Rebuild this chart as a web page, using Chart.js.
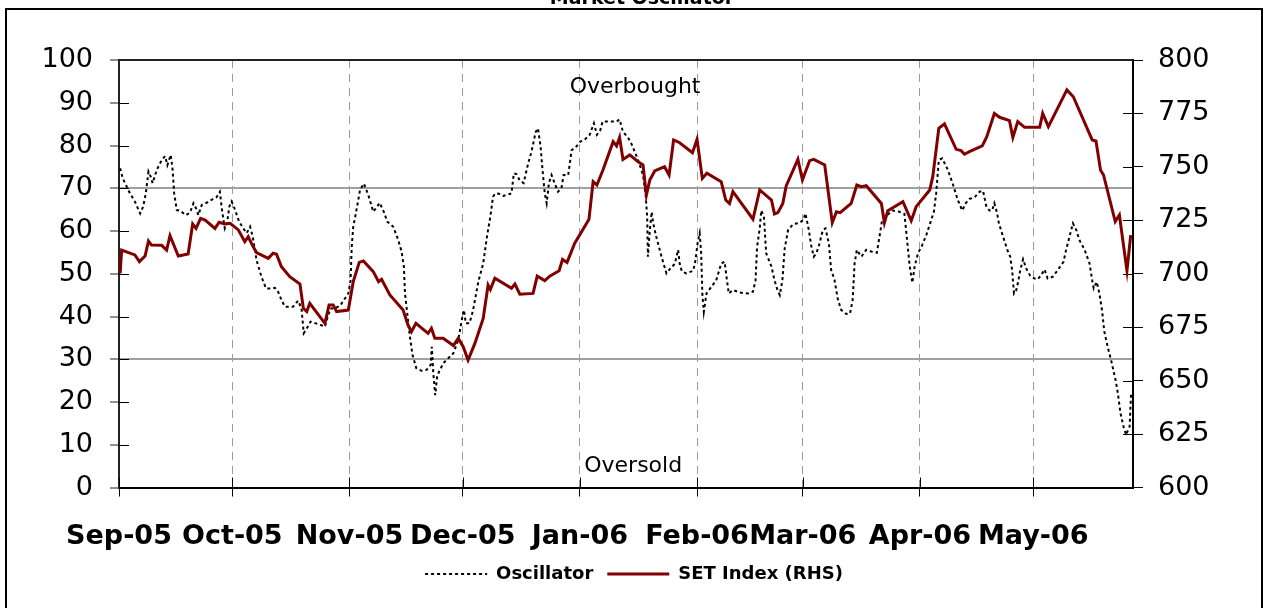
<!DOCTYPE html>
<html>
<head>
<meta charset="utf-8">
<script src="https://cdn.jsdelivr.net/npm/chart.js@4/dist/chart.umd.min.js"></script>
<style>
html,body{margin:0;padding:0;background:#fff;}
#wrap{position:relative;width:1268px;height:608px;overflow:hidden;}
canvas{display:block;}
</style>
</head>
<body>
<div id="wrap"><canvas id="c" width="1268" height="608" style="width:1268px;height:608px"></canvas></div>
<script>
// ---- tick positions / labels (x in days since 1 Sep 2005) ----
const monthDays = [0, 30, 61, 91, 122, 153, 181, 212, 242];
const monthLabels = ['Sep-05', 'Oct-05', 'Nov-05', 'Dec-05', 'Jan-06', 'Feb-06', 'Mar-06', 'Apr-06', 'May-06'];
const leftTicks = [0, 10, 20, 30, 40, 50, 60, 70, 80, 90, 100];
const rightTicks = [600, 625, 650, 675, 700, 725, 750, 775, 800];
const bandLevels = [30, 70];

// ---- Oscillator (left axis) ----
const oscDay = [0.3,1.0,2.9,4.2,5.6,6.4,7.1,7.8,8.4,8.9,10.0,11.3,12.2,12.8,13.7,14.2,14.6,15.3,16.1,17.7,18.8,19.7,20.4,21.0,21.9,23.2,24.5,25.8,26.7,27.2,28.0,28.6,29.2,29.8,30.4,31.8,32.9,33.8,34.7,35.4,36.4,37.7,38.9,40.4,41.3,42.1,43.0,43.9,46.1,47.4,48.3,48.9,49.7,50.7,52.1,53.4,54.5,55.4,56.0,57.1,58.5,59.8,60.7,61.3,61.6,62.0,62.6,63.1,63.8,64.8,66.0,67.3,68.4,69.0,70.1,71.0,72.6,73.9,74.8,75.4,75.7,76.3,77.0,77.7,78.7,80.1,81.4,82.5,82.8,83.2,83.7,84.2,84.9,86.0,87.1,88.5,89.8,90.9,91.3,91.8,92.7,93.3,93.9,95.1,96.4,97.4,98.3,99.0,99.6,100.6,101.7,103.9,104.5,105.2,106.1,107.1,108.3,109.2,110.3,110.9,111.6,112.1,112.7,113.2,113.8,114.5,115.3,116.2,117.1,117.7,118.9,119.8,120.9,122.1,123.3,124.6,125.7,126.5,127.4,128.0,129.9,131.7,132.5,133.4,134.7,135.6,137.4,138.7,139.4,139.8,140.0,140.5,141.0,141.4,142.2,143.6,144.9,146.0,147.1,148.0,148.4,149.0,150.2,152.0,152.6,153.2,153.7,154.1,154.4,154.8,155.5,156.5,158.1,159.4,160.3,160.8,161.4,162.5,164.3,166.5,167.8,168.5,168.9,169.6,170.0,170.7,171.3,172.7,173.5,174.3,174.9,175.6,176.2,177.1,178.4,180.2,181.2,181.7,182.6,183.2,183.9,184.6,185.3,186.3,187.0,187.9,188.5,189.4,190.3,191.2,192.5,193.5,194.2,194.7,195.3,196.5,197.8,199.1,200.6,201.3,202.0,203.3,204.8,206.6,207.9,208.6,209.3,210.0,210.6,211.5,212.6,213.7,215.0,215.7,216.3,217.0,217.9,219.4,220.7,222.0,223.2,224.2,225.1,226.5,227.8,228.7,229.6,230.4,231.1,231.7,232.4,232.9,234.0,235.3,235.9,236.4,236.9,237.5,238.0,238.6,239.3,240.1,241.2,242.3,243.2,244.1,245.0,245.8,247.2,248.5,250.0,250.7,251.6,252.5,253.4,254.2,255.6,256.9,257.6,258.0,258.8,259.5,260.2,260.8,261.7,262.6,263.8,264.4,265.1,265.9,266.6,267.1,267.5,267.9];
const oscVal = [74.7,72.3,68.8,66.9,64.1,65.7,68.8,73.9,72.7,71.2,74.3,76.6,77.5,75.4,77.8,74.3,68.8,64.9,64.8,63.7,64.3,66.5,65.3,63.7,66.1,66.6,67.3,67.9,69.2,65.3,60.6,61.8,65.7,66.9,65.7,62.2,60.6,59.5,61.0,58.7,53.2,49.3,46.6,46.5,46.7,45.8,43.9,42.3,42.3,43.7,41.9,36.1,37.2,38.8,38.4,38.0,37.6,40.4,41.9,41.9,42.5,44.2,45.4,48.5,56.3,61.0,63.7,66.1,69.6,71.1,68.4,64.5,65.8,66.6,64.5,62.2,61.0,57.9,55.2,51.7,45.4,40.7,35.3,31.0,27.9,27.3,27.5,28.7,32.9,26.7,21.6,25.9,27.5,29.2,30.2,31.4,34.5,40.0,41.5,38.4,38.4,40.0,42.3,48.1,52.4,58.7,63.4,68.0,68.8,68.7,68.2,68.8,73.5,73.3,71.8,71.2,75.8,78.6,83.2,84.0,79.7,74.3,68.8,66.5,71.2,73.1,71.2,69.2,70.0,73.1,73.1,78.9,79.6,80.9,81.4,82.5,85.2,82.5,83.6,85.6,85.6,85.6,86.1,83.2,81.9,80.5,76.6,73.1,68.4,63.4,54.0,60.2,64.5,61.8,58.7,54.0,50.1,51.3,52.3,55.6,52.4,50.5,50.1,50.7,53.2,57.5,59.5,54.8,45.4,41.1,45.4,46.6,48.5,52.4,52.8,49.3,45.4,46.2,45.6,45.4,45.8,48.5,56.3,60.6,64.8,63.4,54.8,51.7,48.5,46.2,45.0,48.5,55.9,60.2,61.6,61.9,62.7,64.1,60.2,56.7,54.0,54.8,56.7,60.2,60.6,57.1,50.9,48.5,43.9,41.5,40.6,40.7,43.9,52.4,55.6,54.0,55.6,55.2,54.9,58.7,62.6,63.7,64.8,64.5,64.0,57.9,51.7,47.9,51.7,54.8,56.7,59.1,62.6,64.5,68.8,76.6,77.0,74.3,71.0,67.3,64.8,66.6,67.5,67.9,69.2,69.4,65.7,64.8,64.8,66.5,64.3,61.8,58.7,55.2,54.0,50.9,45.4,46.2,48.1,51.0,53.4,51.3,49.5,48.9,48.7,49.7,51.0,48.9,49.3,50.9,52.8,55.6,58.7,61.8,60.2,57.9,55.6,52.4,48.5,46.6,48.1,45.4,41.5,36.5,32.9,29.8,25.1,22.0,17.3,14.2,12.3,13.5,14.2,22.0];

// ---- SET Index (right axis) ----
const setDay = [0.3,0.7,4.2,5.4,6.9,7.8,8.6,11.3,12.6,13.5,15.7,18.3,19.5,20.4,21.6,22.8,25.4,26.5,28.0,29.4,31.6,33.3,34.2,35.5,36.4,39.5,40.8,41.7,43.0,45.2,47.9,48.8,49.7,50.5,54.5,55.6,56.7,57.6,60.7,62.0,63.6,64.7,67.3,68.7,69.5,71.7,75.2,76.5,77.4,78.6,81.8,82.7,83.6,85.8,88.5,89.8,91.1,92.4,94.2,96.4,97.7,98.3,99.5,103.9,104.8,106.1,109.6,110.7,112.7,114.0,116.5,117.4,118.6,120.6,124.4,125.5,126.5,128.1,130.8,131.7,132.5,133.4,135.2,137.4,138.7,139.6,140.5,141.8,144.4,145.6,146.8,148.4,151.8,153.0,154.4,155.6,159.4,160.6,161.6,162.5,167.8,169.6,172.7,173.5,174.4,175.7,176.6,179.7,180.9,182.8,183.9,186.8,188.8,189.9,190.9,193.8,195.3,196.5,197.8,201.8,202.6,203.5,207.5,209.7,211.0,214.6,215.4,217.0,218.5,221.6,222.9,223.8,225.1,228.5,229.7,231.7,233.1,235.7,236.6,237.9,239.7,243.7,244.5,246.0,250.9,252.6,257.6,258.6,259.8,260.6,263.7,264.8,266.8,267.8];
const setVal = [700.2,711.1,708.8,705.7,708.3,715.3,713.4,713.3,711.1,717.8,708.3,709.2,723.3,721.2,725.9,725.1,721.2,724.1,723.3,723.6,720.5,715.0,717.3,712.7,709.9,707.2,709.6,709.1,703.3,698.6,695.2,683.8,682.3,686.2,676.8,685.4,685.4,682.3,683.0,696.3,705.3,706.0,701.0,696.3,697.4,690.1,683.0,676.0,672.9,676.8,672.1,674.5,669.8,669.8,666.4,669.8,665.9,659.6,667.4,679.1,694.7,692.7,697.9,693.2,695.2,690.4,690.8,698.9,696.8,698.9,701.4,706.7,705.3,714.2,725.5,743.1,741.5,748.5,761.8,759.8,763.8,753.5,755.6,752.4,750.9,736.8,743.9,748.1,750.1,746.2,762.6,761.3,756.6,762.9,744.6,747.0,743.1,734.5,732.9,738.4,725.5,739.2,734.5,728.0,728.6,732.9,741.1,753.5,743.9,752.9,753.5,750.9,723.9,729.0,728.6,732.9,741.5,740.7,741.2,732.9,723.9,729.5,733.7,724.8,731.4,739.2,745.4,768.0,770.1,758.2,757.6,755.9,757.1,759.8,764.1,775.0,773.2,771.6,763.8,771.2,768.5,768.5,775.0,768.8,786.0,782.8,762.6,762.1,748.5,746.2,724.4,727.5,701.4,718.1];

const FONT = '"DejaVu Sans", "Liberation Sans", sans-serif';

const decor = {
  id: 'decor',
  beforeDraw(chart) {
    const ctx = chart.ctx;
    ctx.save();
    ctx.fillStyle = '#fff';
    ctx.fillRect(0, 0, chart.width, chart.height);
    ctx.restore();
  },
  beforeDatasetsDraw(chart) {
    const {ctx, chartArea: a, scales} = chart;
    ctx.save();
    ctx.strokeStyle = '#000';
    ctx.lineWidth = 1;
    ctx.beginPath();
    scales.yL.ticks.forEach(t => {
      const y = Math.round(scales.yL.getPixelForValue(t.value)) + 0.5;
      ctx.moveTo(a.left, y); ctx.lineTo(a.left + 10, y);
    });
    scales.yR.ticks.forEach(t => {
      const y = Math.round(scales.yR.getPixelForValue(t.value)) + 0.5;
      ctx.moveTo(a.right - 10, y); ctx.lineTo(a.right, y);
    });
    scales.x.ticks.forEach(t => {
      const x = Math.round(scales.x.getPixelForValue(t.value)) + 0.5;
      ctx.moveTo(x, a.bottom - 10); ctx.lineTo(x, a.bottom);
    });
    ctx.stroke();
    ctx.lineWidth = 2;
    ctx.strokeStyle = '#222';
    ctx.beginPath();
    ctx.moveTo(a.left, a.top); ctx.lineTo(a.right, a.top);
    ctx.stroke();
    ctx.restore();
  },
  afterDraw(chart) {
    const {ctx, scales} = chart;
    ctx.save();
    // outer chart frame
    ctx.strokeStyle = '#000';
    ctx.lineWidth = 2;
    ctx.strokeRect(6, 9, 1256, 700);
    // title (cropped at the top of the picture)
    ctx.fillStyle = '#000';
    ctx.textAlign = 'center';
    ctx.textBaseline = 'alphabetic';
    ctx.font = 'bold 19px ' + FONT;
    ctx.fillText('Market Oscillator', 642, 4);
    // zone annotations
    ctx.font = '22px ' + FONT;
    ctx.fillText('Overbought', scales.x.getPixelForValue(136.6), scales.yL.getPixelForValue(92.3));
    ctx.fillText('Oversold', scales.x.getPixelForValue(136.1), scales.yL.getPixelForValue(3.6));
    ctx.restore();
  }
};

const transparent = 'rgba(0,0,0,0)';

new Chart(document.getElementById('c'), {
  type: 'line',
  data: {
    datasets: [
      {
        label: 'Oscillator',
        data: oscDay.map((d, i) => ({x: d, y: oscVal[i]})),
        yAxisID: 'yL',
        borderColor: '#000',
        backgroundColor: '#000',
        borderWidth: 2,
        borderDash: [3, 3],
        pointRadius: 0,
        fill: false,
        tension: 0,
        order: 1
      },
      {
        label: 'SET Index (RHS)',
        data: setDay.map((d, i) => ({x: d, y: setVal[i]})),
        yAxisID: 'yR',
        borderColor: '#800000',
        backgroundColor: '#800000',
        borderWidth: 3,
        pointRadius: 0,
        fill: false,
        tension: 0,
        order: 0
      }
    ]
  },
  options: {
    responsive: false,
    animation: false,
    devicePixelRatio: 1,
    layout: {padding: {top: 60, left: 0, right: 0, bottom: 15}},
    plugins: {
      title: {display: false},
      tooltip: {enabled: false},
      legend: {
        display: true,
        position: 'bottom',
        labels: {
          usePointStyle: true,
          pointStyle: 'line',
          pointStyleWidth: 62,
          padding: 14,
          color: '#000',
          font: {family: FONT, size: 18, weight: 'bold'},
          generateLabels: chart => chart.data.datasets.map((ds, i) => ({
            text: ds.label,
            datasetIndex: i,
            hidden: false,
            fillStyle: ds.borderColor,
            strokeStyle: ds.borderColor,
            lineWidth: ds.borderWidth,
            lineDash: ds.borderDash || [],
            lineCap: 'butt',
            pointStyle: 'line',
            fontColor: '#000'
          }))
        }
      }
    },
    scales: {
      x: {
        type: 'linear',
        position: 'bottom',
        min: 0,
        max: 268.4,
        afterBuildTicks: s => { s.ticks = monthDays.map(v => ({value: v})); },
        afterFit: s => { s.height = 63.5; },
        ticks: {
          autoSkip: false,
          maxRotation: 0,
          minRotation: 0,
          padding: 24,
          color: '#000',
          font: {family: FONT, size: 27, weight: 'bold'},
          callback: (v, i) => monthLabels[i]
        },
        grid: {
          color: c => (c.tick && c.tick.value === 0) ? transparent : '#9a9a9a',
          lineWidth: 1,
          tickColor: '#000',
          tickLength: 9,
          tickWidth: 1
        },
        border: {color: '#000', width: 2, dash: [8, 6]}
      },
      yL: {
        type: 'linear',
        position: 'left',
        min: 0,
        max: 100,
        afterBuildTicks: s => { s.ticks = leftTicks.map(v => ({value: v})); },
        afterFit: s => { s.width = 119; },
        ticks: {
          padding: 17,
          color: '#000',
          font: {family: FONT, size: 27}
        },
        grid: {
          color: c => (c.tick && bandLevels.includes(c.tick.value)) ? '#a0a0a0' : transparent,
          lineWidth: 2,
          tickColor: '#222',
          tickLength: 9,
          tickWidth: 1
        },
        border: {color: '#222', width: 2}
      },
      yR: {
        type: 'linear',
        position: 'right',
        min: 600,
        max: 800,
        afterBuildTicks: s => { s.ticks = rightTicks.map(v => ({value: v})); },
        afterFit: s => { s.width = 135; },
        ticks: {
          padding: 15,
          color: '#000',
          font: {family: FONT, size: 27}
        },
        grid: {
          drawOnChartArea: false,
          tickColor: '#000',
          tickLength: 10,
          tickWidth: 1
        },
        border: {color: '#000', width: 2}
      }
    }
  },
  plugins: [decor]
});
</script>
</body>
</html>
